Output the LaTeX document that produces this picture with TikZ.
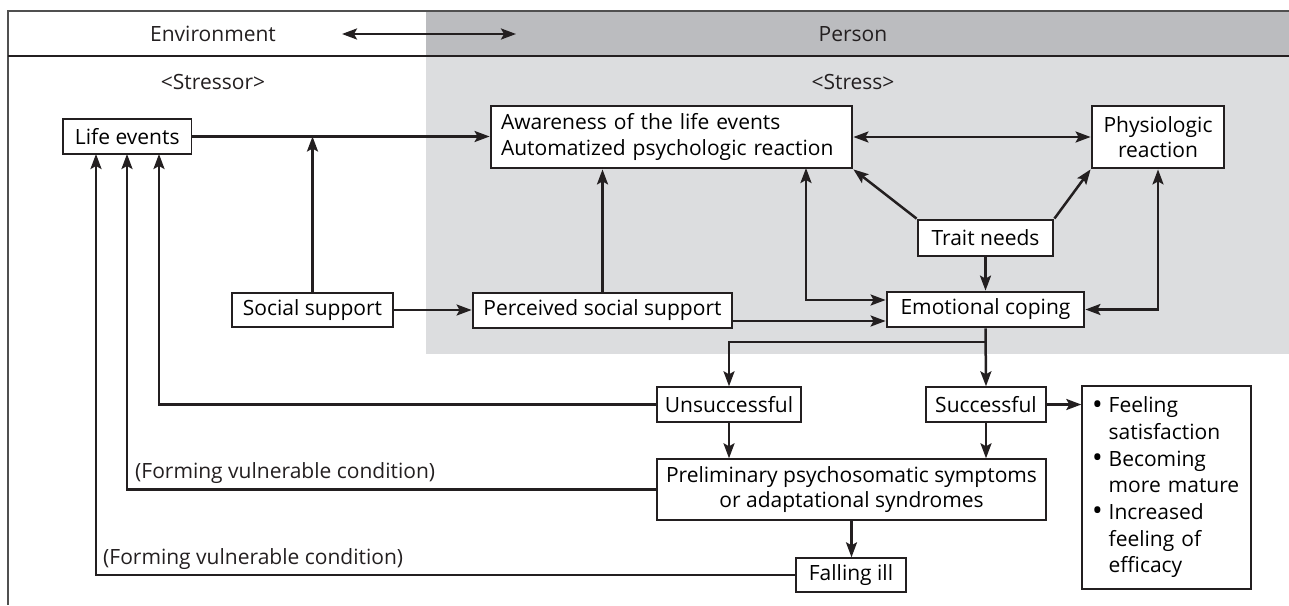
\documentclass[tikz,border=0pt]{standalone}
\usepackage{fontspec}
\usepackage{graphicx}
\setmainfont{Open Sans}
\usetikzlibrary{arrows.meta}
\definecolor{ink}{HTML}{231F20}
\definecolor{hdr}{HTML}{BBBCBF}
\definecolor{bgl}{HTML}{DCDDDF}
\definecolor{framec}{HTML}{505050}
\newcommand{\bigbul}{\raisebox{-0.12ex}{\scalebox{1.35}{\textbullet}}}
\begin{document}
\begin{tikzpicture}[x=1pt,y=-1pt,
  font=\fontsize{21}{25.5}\selectfont,
  thinbox/.style={draw=ink,line width=1.4pt,fill=white,inner sep=0pt},
  thickbox/.style={draw=ink,line width=2.8pt,fill=white,inner sep=0pt},
  arr/.style={draw=ink,line width=2.5pt,-{Stealth[length=15pt,width=11pt,inset=3pt]}},
  arrb/.style={draw=ink,line width=2.5pt,{Stealth[length=15pt,width=11pt,inset=3pt]}-{Stealth[length=15pt,width=11pt,inset=3pt]}},
  lbl/.style={inner sep=0pt,text=ink}]
\useasboundingbox (0,0) rectangle (1289,605);
% background regions
\fill[hdr] (426,11) rectangle (1289,56);
\fill[bgl] (426,56) rectangle (1289,354);
\draw[framec,line width=1.4pt] (1289,11) -- (8,11) -- (8,605);
\draw[ink,line width=1.4pt] (8,56) -- (1289,56);
% header
\node[lbl] (env) at (213,34) {Environment};
\node[lbl] (person) at (853,34) {Person};
\coordinate (ha) at (342,34);
\coordinate (hb) at (516,34);
\draw[arrb] (ha) -- (hb);
\node[lbl] (stressor) at (213,82) {<Stressor>};
\node[lbl] (stress) at (853,82) {<Stress>};
% boxes
\node[thinbox,minimum width=128.5pt,minimum height=35pt] (life) at (127.25,136.5) {Life events};
\node[thickbox,minimum width=361pt,minimum height=62pt,align=left,text width=341pt] (aware) at (671.5,137) {Awareness of the life events\\Automatized psychologic reaction};
\node[thickbox,minimum width=132pt,minimum height=62pt,align=center] (phys) at (1158,137) {Physiologic\\reaction};
\node[thickbox,minimum width=135pt,minimum height=36pt] (trait) at (985.5,238) {Trait needs};
\node[thickbox,minimum width=197pt,minimum height=35pt] (emo) at (985.5,309.5) {Emotional coping};
\node[thickbox,minimum width=259pt,minimum height=35pt] (perc) at (602.5,310.5) {Perceived social support};
\node[thinbox,minimum width=161pt,minimum height=34pt] (soc) at (312.5,310) {Social support};
\node[thinbox,minimum width=144pt,minimum height=35pt] (unsucc) at (729,404.5) {Unsuccessful};
\node[thinbox,minimum width=120pt,minimum height=35pt] (succ) at (986,404.5) {Successful};
\node[thinbox,minimum width=169pt,minimum height=203pt,text width=153pt,align=left] (feel) at (1166.5,487.5) {%
  \fontsize{21}{26.7}\selectfont
  \begin{tabular}{@{\hspace{2pt}}l@{\hspace{6pt}}l@{}}
  \bigbul & Feeling\\
   & satisfaction\\
  \bigbul & Becoming\\
   & more mature\\
  \bigbul & Increased\\
   & feeling of\\
   & efficacy
  \end{tabular}};
\node[thinbox,minimum width=389pt,minimum height=61pt,align=center] (prelim) at (851.5,489.5) {Preliminary psychosomatic symptoms\\or adaptational syndromes};
\node[thinbox,minimum width=110pt,minimum height=34pt] (fall) at (851,575) {Falling ill};
% helper coordinates
\coordinate (l1) at (96,154);
\coordinate (l2) at (127,154);
\coordinate (l3) at (159,154);
\coordinate (a1) at (806,168);
\coordinate (br) at (985.5,342);
% connectors
\draw[arr] (life.east) -- (life.east -| aware.west);
\draw[arr] (soc.north) -- (soc.north |- life.east);
\draw[arr] (soc.east) -- (soc.east -| perc.west);
\draw[arr] (perc.north) -- (perc.north |- aware.south);
\draw[arrb] (aware.east) -- (phys.west);
\draw[arr] (trait.north west) -- (aware.south east);
\draw[arr] (trait.north east) -- (phys.south west);
\draw[arr] (trait.south) -- (emo.north);
\draw[arrb] (a1) |- ([yshift=9.5pt]emo.west);
\draw[arrb] (phys.south) |- (emo.east);
\draw[arr] ([yshift=-10.5pt]perc.east) -- ([yshift=-10.5pt]perc.east -| emo.west);
\draw[arr] (emo.south) -- (succ.north);
\draw[arr] (br) -| (unsucc.north);
\draw[arr] (unsucc.south) -- (unsucc.south |- prelim.north);
\draw[arr] (succ.south) -- (succ.south |- prelim.north);
\draw[arr] (prelim.south) -- (prelim.south |- fall.north);
\draw[arr] (succ.east) -- (succ.east -| feel.west);
\draw[arr] (unsucc.west) -| (l3);
\draw[arr] (prelim.west) -| (l2);
\draw[arr] (fall.west) -| (l1);
% labels
\node[lbl,anchor=base west] (fv1) at (135,478) {(Forming vulnerable condition)};
\node[lbl,anchor=base west] (fv2) at (103,564) {(Forming vulnerable condition)};
\end{tikzpicture}
\end{document}
